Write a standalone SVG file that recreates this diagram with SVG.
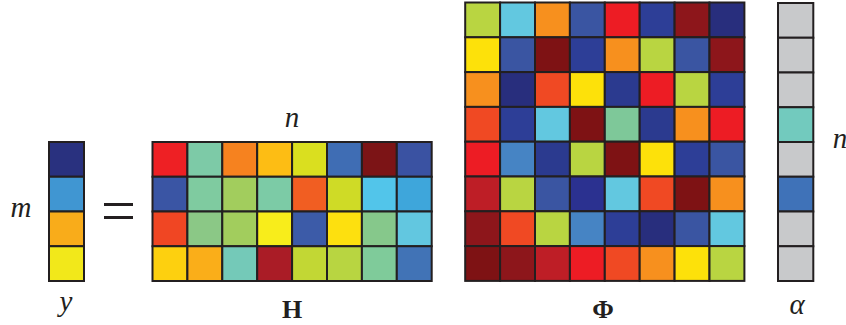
<svg xmlns="http://www.w3.org/2000/svg" width="846" height="325" viewBox="0 0 846 325">
<style>
rect{stroke:#231f20;stroke-width:2}
.t{font-family:"Liberation Serif","DejaVu Serif",serif;font-style:italic;font-size:29px;fill:#231f20}
.b{font-family:"Liberation Serif","DejaVu Serif",serif;font-weight:bold;font-size:26px;fill:#231f20}
</style>
<rect x="0" y="0" width="846" height="325" fill="#fff" style="stroke:none"/>
<g id="vector-y">
<rect x="49" y="142" width="35" height="34.75" fill="#29317f"/>
<rect x="49" y="176.75" width="35" height="34.75" fill="#4096d2"/>
<rect x="49" y="211.5" width="35" height="34.75" fill="#f9ac1a"/>
<rect x="49" y="246.25" width="35" height="34.75" fill="#f2e81a"/>
<text class="t" x="66" y="311" text-anchor="middle">y</text>
<text class="t" x="21" y="217" text-anchor="middle">m</text>
</g>
<g id="equals">
<rect x="104" y="203" width="29" height="3" fill="#231f20" style="stroke:none"/>
<rect x="104" y="216" width="29" height="3" fill="#231f20" style="stroke:none"/>
</g>
<g id="matrix-H">
<rect x="152.5" y="142" width="34.9" height="34.75" fill="#ee2024"/>
<rect x="187.4" y="142" width="34.9" height="34.75" fill="#7dcaa7"/>
<rect x="222.3" y="142" width="34.9" height="34.75" fill="#f6821f"/>
<rect x="257.2" y="142" width="34.9" height="34.75" fill="#fdbd14"/>
<rect x="292.1" y="142" width="34.9" height="34.75" fill="#dadf1f"/>
<rect x="327" y="142" width="34.9" height="34.75" fill="#3f6db4"/>
<rect x="361.9" y="142" width="34.9" height="34.75" fill="#7c1416"/>
<rect x="396.8" y="142" width="34.9" height="34.75" fill="#3a52a2"/>
<rect x="152.5" y="176.75" width="34.9" height="34.75" fill="#3a55a4"/>
<rect x="187.4" y="176.75" width="34.9" height="34.75" fill="#7fcba0"/>
<rect x="222.3" y="176.75" width="34.9" height="34.75" fill="#a2cd5d"/>
<rect x="257.2" y="176.75" width="34.9" height="34.75" fill="#7ccba6"/>
<rect x="292.1" y="176.75" width="34.9" height="34.75" fill="#f15e22"/>
<rect x="327" y="176.75" width="34.9" height="34.75" fill="#cfdb26"/>
<rect x="361.9" y="176.75" width="34.9" height="34.75" fill="#52c5ea"/>
<rect x="396.8" y="176.75" width="34.9" height="34.75" fill="#3ea6db"/>
<rect x="152.5" y="211.5" width="34.9" height="34.75" fill="#f04623"/>
<rect x="187.4" y="211.5" width="34.9" height="34.75" fill="#8bc886"/>
<rect x="222.3" y="211.5" width="34.9" height="34.75" fill="#a2cd5d"/>
<rect x="257.2" y="211.5" width="34.9" height="34.75" fill="#f8ed1b"/>
<rect x="292.1" y="211.5" width="34.9" height="34.75" fill="#3c5ba8"/>
<rect x="327" y="211.5" width="34.9" height="34.75" fill="#fde00f"/>
<rect x="361.9" y="211.5" width="34.9" height="34.75" fill="#86c88b"/>
<rect x="396.8" y="211.5" width="34.9" height="34.75" fill="#62c7e0"/>
<rect x="152.5" y="246.25" width="34.9" height="34.75" fill="#fdd00f"/>
<rect x="187.4" y="246.25" width="34.9" height="34.75" fill="#faae19"/>
<rect x="222.3" y="246.25" width="34.9" height="34.75" fill="#74c9b8"/>
<rect x="257.2" y="246.25" width="34.9" height="34.75" fill="#aa1c26"/>
<rect x="292.1" y="246.25" width="34.9" height="34.75" fill="#c2d734"/>
<rect x="327" y="246.25" width="34.9" height="34.75" fill="#b8d541"/>
<rect x="361.9" y="246.25" width="34.9" height="34.75" fill="#7fcb9a"/>
<rect x="396.8" y="246.25" width="34.9" height="34.75" fill="#4173b6"/>
<text class="t" x="292" y="127" text-anchor="middle">n</text>
<text class="b" x="292" y="318" text-anchor="middle">H</text>
</g>
<g id="matrix-Phi">
<rect x="465.2" y="2.5" width="34.9" height="34.8" fill="#b9d541"/>
<rect x="500.1" y="2.5" width="34.9" height="34.8" fill="#62c8e0"/>
<rect x="535" y="2.5" width="34.9" height="34.8" fill="#f7901e"/>
<rect x="569.9" y="2.5" width="34.9" height="34.8" fill="#3a55a2"/>
<rect x="604.8" y="2.5" width="34.9" height="34.8" fill="#ed1c24"/>
<rect x="639.7" y="2.5" width="34.9" height="34.8" fill="#2d3e97"/>
<rect x="674.6" y="2.5" width="34.9" height="34.8" fill="#8d161b"/>
<rect x="709.5" y="2.5" width="34.9" height="34.8" fill="#282e7d"/>
<rect x="465.2" y="37.3" width="34.9" height="34.8" fill="#fde10a"/>
<rect x="500.1" y="37.3" width="34.9" height="34.8" fill="#3a55a2"/>
<rect x="535" y="37.3" width="34.9" height="34.8" fill="#7e1214"/>
<rect x="569.9" y="37.3" width="34.9" height="34.8" fill="#2d3e97"/>
<rect x="604.8" y="37.3" width="34.9" height="34.8" fill="#f7901e"/>
<rect x="639.7" y="37.3" width="34.9" height="34.8" fill="#b9d541"/>
<rect x="674.6" y="37.3" width="34.9" height="34.8" fill="#3a55a2"/>
<rect x="709.5" y="37.3" width="34.9" height="34.8" fill="#8d161b"/>
<rect x="465.2" y="72.1" width="34.9" height="34.8" fill="#f7901e"/>
<rect x="500.1" y="72.1" width="34.9" height="34.8" fill="#282e7d"/>
<rect x="535" y="72.1" width="34.9" height="34.8" fill="#f04923"/>
<rect x="569.9" y="72.1" width="34.9" height="34.8" fill="#fde10a"/>
<rect x="604.8" y="72.1" width="34.9" height="34.8" fill="#2b3a8f"/>
<rect x="639.7" y="72.1" width="34.9" height="34.8" fill="#ed1c24"/>
<rect x="674.6" y="72.1" width="34.9" height="34.8" fill="#b9d541"/>
<rect x="709.5" y="72.1" width="34.9" height="34.8" fill="#2d3e97"/>
<rect x="465.2" y="106.9" width="34.9" height="34.8" fill="#f04923"/>
<rect x="500.1" y="106.9" width="34.9" height="34.8" fill="#2d3e97"/>
<rect x="535" y="106.9" width="34.9" height="34.8" fill="#62c8e0"/>
<rect x="569.9" y="106.9" width="34.9" height="34.8" fill="#7e1214"/>
<rect x="604.8" y="106.9" width="34.9" height="34.8" fill="#7ec899"/>
<rect x="639.7" y="106.9" width="34.9" height="34.8" fill="#2b3a8f"/>
<rect x="674.6" y="106.9" width="34.9" height="34.8" fill="#f7901e"/>
<rect x="709.5" y="106.9" width="34.9" height="34.8" fill="#ed1c24"/>
<rect x="465.2" y="141.7" width="34.9" height="34.8" fill="#ed1c24"/>
<rect x="500.1" y="141.7" width="34.9" height="34.8" fill="#4684c4"/>
<rect x="535" y="141.7" width="34.9" height="34.8" fill="#2b3a8f"/>
<rect x="569.9" y="141.7" width="34.9" height="34.8" fill="#b9d541"/>
<rect x="604.8" y="141.7" width="34.9" height="34.8" fill="#7e1214"/>
<rect x="639.7" y="141.7" width="34.9" height="34.8" fill="#fde10a"/>
<rect x="674.6" y="141.7" width="34.9" height="34.8" fill="#2d3e97"/>
<rect x="709.5" y="141.7" width="34.9" height="34.8" fill="#3a55a2"/>
<rect x="465.2" y="176.5" width="34.9" height="34.8" fill="#be1e26"/>
<rect x="500.1" y="176.5" width="34.9" height="34.8" fill="#b9d541"/>
<rect x="535" y="176.5" width="34.9" height="34.8" fill="#3a55a2"/>
<rect x="569.9" y="176.5" width="34.9" height="34.8" fill="#2b3190"/>
<rect x="604.8" y="176.5" width="34.9" height="34.8" fill="#62c8e0"/>
<rect x="639.7" y="176.5" width="34.9" height="34.8" fill="#f04923"/>
<rect x="674.6" y="176.5" width="34.9" height="34.8" fill="#7e1214"/>
<rect x="709.5" y="176.5" width="34.9" height="34.8" fill="#f7901e"/>
<rect x="465.2" y="211.3" width="34.9" height="34.8" fill="#8d161b"/>
<rect x="500.1" y="211.3" width="34.9" height="34.8" fill="#f04923"/>
<rect x="535" y="211.3" width="34.9" height="34.8" fill="#b9d541"/>
<rect x="569.9" y="211.3" width="34.9" height="34.8" fill="#4684c4"/>
<rect x="604.8" y="211.3" width="34.9" height="34.8" fill="#2d3e97"/>
<rect x="639.7" y="211.3" width="34.9" height="34.8" fill="#282e7d"/>
<rect x="674.6" y="211.3" width="34.9" height="34.8" fill="#3a55a2"/>
<rect x="709.5" y="211.3" width="34.9" height="34.8" fill="#62c8e0"/>
<rect x="465.2" y="246.1" width="34.9" height="34.8" fill="#7e1214"/>
<rect x="500.1" y="246.1" width="34.9" height="34.8" fill="#8d161b"/>
<rect x="535" y="246.1" width="34.9" height="34.8" fill="#be1e26"/>
<rect x="569.9" y="246.1" width="34.9" height="34.8" fill="#ed1c24"/>
<rect x="604.8" y="246.1" width="34.9" height="34.8" fill="#f04923"/>
<rect x="639.7" y="246.1" width="34.9" height="34.8" fill="#f7901e"/>
<rect x="674.6" y="246.1" width="34.9" height="34.8" fill="#fde10a"/>
<rect x="709.5" y="246.1" width="34.9" height="34.8" fill="#b9d541"/>
<text class="b" x="603" y="318" text-anchor="middle">Φ</text>
</g>
<g id="vector-alpha">
<rect x="778" y="3" width="35.3" height="34.75" fill="#c8c9cb"/>
<rect x="778" y="37.75" width="35.3" height="34.75" fill="#c8c9cb"/>
<rect x="778" y="72.5" width="35.3" height="34.75" fill="#c8c9cb"/>
<rect x="778" y="107.25" width="35.3" height="34.75" fill="#72cabe"/>
<rect x="778" y="142" width="35.3" height="34.75" fill="#c8c9cb"/>
<rect x="778" y="176.75" width="35.3" height="34.75" fill="#3f72b8"/>
<rect x="778" y="211.5" width="35.3" height="34.75" fill="#c8c9cb"/>
<rect x="778" y="246.25" width="35.3" height="34.75" fill="#c8c9cb"/>
<text class="t" x="797" y="314" text-anchor="middle">α</text>
<text class="t" x="840" y="148" text-anchor="middle">n</text>
</g>
<g id="connectors"></g>
</svg>
